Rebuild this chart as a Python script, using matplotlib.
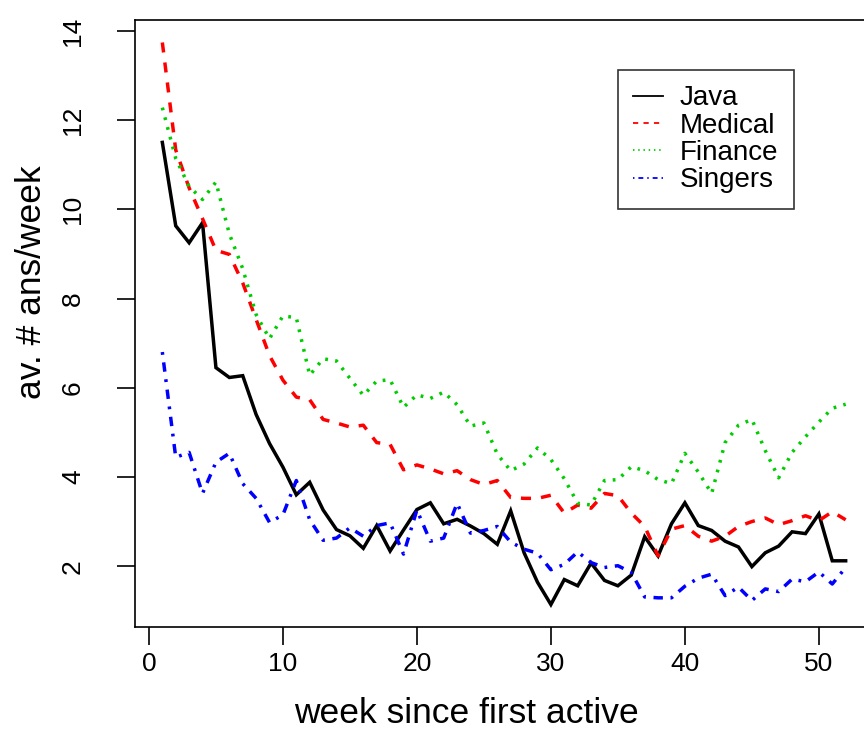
import numpy as np
import matplotlib
matplotlib.use("Agg")
import matplotlib.pyplot as plt

plt.rcParams['font.family'] = ['Liberation Sans', 'DejaVu Sans']

weeks = list(range(1, 53))

# values
java = [11.5, 9.63, 9.25, 9.7, 6.45, 6.23, 6.27, 5.4, 4.75, 4.22,
        3.6, 3.88, 3.26, 2.82, 2.68, 2.4, 2.91, 2.34, 2.81, 3.27,
        3.42, 2.95, 3.05, 2.9, 2.73, 2.49, 3.24, 2.3, 1.64, 1.14,
        1.7, 1.56, 2.07, 1.68, 1.56, 1.8, 2.66, 2.23, 2.95, 3.42,
        2.91, 2.8, 2.56, 2.43, 1.99, 2.3, 2.45, 2.77, 2.73, 3.17,
        2.12, 2.12]
medical = [13.74, 11.33, 10.48, 9.79, 9.08, 8.99, 8.35, 7.53, 6.72, 6.17,
           5.79, 5.73, 5.29, 5.21, 5.12, 5.16, 4.77, 4.73, 4.16, 4.27,
           4.18, 4.07, 4.14, 3.94, 3.83, 3.92, 3.54, 3.52, 3.52, 3.59,
           3.19, 3.37, 3.3, 3.63, 3.58, 3.19, 2.89, 2.23, 2.83, 2.91,
           2.67, 2.56, 2.67, 2.89, 3.0, 3.08, 2.93, 3.02, 3.13, 3.02,
           3.22, 3.04]
finance = [12.28, 11.14, 10.51, 10.22, 10.61, 9.45, 8.67, 7.64, 7.1, 7.61,
           7.57, 6.28, 6.65, 6.6, 6.21, 5.83, 6.15, 6.18, 5.56, 5.84,
           5.76, 5.9, 5.62, 5.14, 5.21, 4.51, 4.14, 4.29, 4.65, 4.39,
           3.96, 3.41, 3.37, 3.92, 3.94, 4.23, 4.14, 3.94, 3.85, 4.53,
           4.11, 3.63, 4.77, 5.16, 5.29, 4.59, 3.98, 4.55, 4.9, 5.23,
           5.54, 5.63]
singers = [6.8, 4.44, 4.55, 3.63, 4.33, 4.53, 3.85, 3.52, 2.98, 3.15,
           3.92, 3.04, 2.58, 2.63, 2.86, 2.67, 2.91, 2.97, 2.27, 3.26,
           2.56, 2.63, 3.41, 2.74, 2.8, 2.89, 2.54, 2.38, 2.29, 1.92,
           2.04, 2.32, 2.08, 1.97, 2.01, 1.86, 1.31, 1.29, 1.29, 1.55,
           1.73, 1.82, 1.34, 1.53, 1.23, 1.49, 1.43, 1.71, 1.65, 1.87,
           1.6, 1.97]

labels = ['Java', 'Medical', 'Finance', 'Singers']
colors = ['black', '#FF0000', '#00CD00', '#0000FF']

fig = plt.figure(figsize=(8.64, 7.37), dpi=100)
# axes run past the right edge of the picture (reference is cropped there)
ax = fig.add_axes([135 / 864, 110 / 737, 738 / 864, 607 / 737])

lw = 2.5
series = [java, medical, finance, singers]
# R style lty 1..4, dash lengths in units of line width
styles = ['-', (0, (2.9, 2.9)), (0, (0.8, 2.1)), (0, (0.8, 2.2, 2.7, 2.2))]
for ys, lab, col, ls in zip(series, labels, colors, styles):
    ax.plot(weeks, ys, color=col, linestyle=ls, linewidth=lw, label=lab,
            dash_capstyle='butt', solid_joinstyle='miter')

# R style axis ranges (4% padding)
allv = np.concatenate([np.array(s) for s in series])
lo, hi = allv.min(), allv.max()
pad = 0.04 * (hi - lo)
ax.set_ylim(lo - pad, hi + pad)
xpad = 0.04 * (weeks[-1] - weeks[0])
ax.set_xlim(weeks[0] - xpad, weeks[-1] + xpad)

ax.set_xticks([0, 10, 20, 30, 40, 50])
ax.set_yticks([2, 4, 6, 8, 10, 12, 14])
ax.tick_params(axis='both', direction='out', length=13, width=1.2,
               labelsize=19)
ax.tick_params(axis='x', pad=5)
ax.tick_params(axis='y', pad=23)
for t in ax.get_yticklabels():
    t.set_rotation(90)
    t.set_va('center')
for sp in ax.spines.values():
    sp.set_linewidth(1.2)

ax.set_xlabel('week since first active', fontsize=25.5)
ax.set_ylabel('av. # ans/week', fontsize=25.5)
ax.xaxis.set_label_coords(0.4485, -0.115)
ax.yaxis.set_label_coords(-0.118, 0.568)

leg = ax.legend(loc='upper left', bbox_to_anchor=(618 / 864, 1 - 70 / 737),
                bbox_transform=fig.transFigure, fontsize=20, frameon=True,
                fancybox=False, handlelength=1.08, handletextpad=0.6,
                labelspacing=0.05, borderpad=0.55, borderaxespad=0)
leg.get_frame().set_edgecolor('black')
leg.get_frame().set_linewidth(1.2)
for h in leg.get_lines():
    h.set_linewidth(1.3)

fig.savefig('out.png', dpi=100)
